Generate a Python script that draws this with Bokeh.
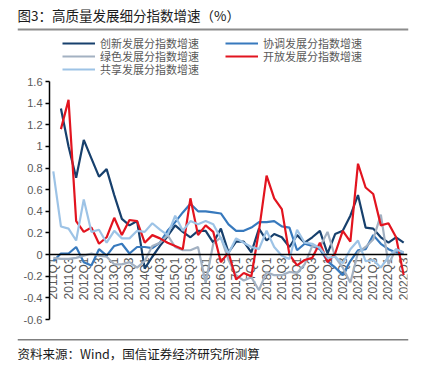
import math
from bokeh.plotting import figure
from bokeh.layouts import column
from bokeh.models import (Span, Label, Legend, LegendItem,
                          FixedTicker, FactorRange, Range1d)
from bokeh.core.properties import value
from bokeh.embed import file_html
from bokeh.resources import INLINE

nan = float("nan")

quarters = [f"{y}Q{q}" for y in range(2011, 2023) for q in range(1, 5)][:47]
x_tick_labels = quarters[::2]

y_ticks = [-0.6, -0.4, -0.2, 0.0, 0.2, 0.4, 0.6, 0.8, 1.0, 1.2, 1.4, 1.6]
y_tick_labels = ["-0.6", "-0.4", "-0.2", "0", "0.2", "0.4", "0.6", "0.8", "1", "1.2", "1.4", "1.6"]

innovation = [nan, 1.35, 1.00, 0.71, 1.06, 0.89, 0.72, 0.79, 0.55, 0.33, 0.27, 0.31,
              -0.13, -0.02, 0.08, 0.17, 0.27, 0.21, 0.16, 0.22, 0.22, 0.11, 0.24, 0.02,
              0.12, 0.12, 0.02, 0.24, 0.13, 0.19, 0.16, 0.07, 0.18, 0.11, 0.16, 0.22,
              0.01, 0.19, 0.22, 0.36, 0.55, 0.25, 0.24, 0.16, 0.11, 0.16, 0.11]
coordination = [-0.06, 0.01, 0.01, 0.07, -0.07, -0.10, 0.05, -0.01, 0.08, 0.10, 0.01, 0.07,
                0.07, 0.06, 0.11, 0.22, 0.30, 0.39, 0.47, 0.40, 0.40, 0.39, 0.38, 0.28,
                0.22, 0.22, 0.25, 0.30, 0.30, 0.31, 0.26, 0.25, 0.04, 0.10, 0.08, 0.05,
                -0.06, -0.12, -0.19, -0.06, 0.04, 0.05, 0.18, 0.10, 0.05, 0.02, 0.01]
green = [-0.03, -0.04, -0.04, -0.03, -0.01, 0.01, -0.01, -0.02, -0.09, -0.09, -0.07, -0.12,
         -0.06, 0.08, 0.11, 0.18, 0.07, 0.04, 0.04, 0.07, -0.26, 0.10, 0.16, -0.05,
         -0.19, -0.24, -0.21, -0.33, -0.16, -0.19, -0.19, -0.16, -0.17, -0.09, 0.08, 0.07,
         0.21, -0.02, -0.12, -0.26, 0.02, 0.07, 0.14, 0.37, -0.09, 0.05, 0.02]
opening = [nan, 1.16, 1.43, 0.31, 0.21, 0.25, 0.10, 0.16, 0.34, 0.18, 0.32, 0.31,
           0.11, 0.18, 0.15, 0.11, 0.08, 0.05, 0.52, 0.18, 0.27, 0.21, -0.07, 0.02,
           -0.23, -0.17, -0.20, 0.22, 0.73, 0.52, 0.42, 0.00, -0.10, -0.05, -0.03, 0.11,
           -0.07, 0.01, 0.22, 0.12, 0.84, 0.62, 0.56, 0.27, 0.29, 0.16, -0.19]
sharing = [0.77, 0.26, 0.24, 0.13, 0.51, 0.21, 0.23, 0.11, 0.22, 0.15, 0.15, 0.22,
           0.21, 0.29, 0.23, 0.18, 0.36, 0.22, 0.31, 0.28, 0.31, 0.28, 0.15, 0.01,
           0.15, 0.11, 0.07, 0.05, 0.22, 0.07, -0.01, -0.04, 0.23, 0.11, 0.10, 0.06,
           -0.03, -0.02, -0.08, 0.05, 0.13, -0.06, -0.05, -0.12, -0.02, 0.05, 0.02]

names = ["创新发展分指数增速", "协调发展分指数增速", "绿色发展分指数增速",
         "开放发展分指数增速", "共享发展分指数增速"]
colors = ["#17406D", "#3779BD", "#A3B1C2", "#E2141F", "#9DC3E6"]
series = [innovation, coordination, green, opening, sharing]

title_text = "图3：高质量发展细分指数增速（%）"
source_text = "资料来源：Wind，国信证券经济研究所测算"

CJK = "Noto Sans CJK SC"
W = 423
HEAD_H, MAIN_H, FOOT_H = 76, 254, 35
LW = 2.2
X0, X1 = 17, 408   # left / right edge of the header and footer bands


def band_figure(height):
    f = figure(width=W, height=height, x_range=Range1d(X0, X1), y_range=Range1d(0, height),
               output_backend="svg", toolbar_location=None,
               min_border_left=X0, min_border_right=W - X1, min_border_top=0, min_border_bottom=0)
    f.frame_align = False
    f.xaxis.visible = False
    f.yaxis.visible = False
    f.grid.visible = False
    f.outline_line_color = None
    f.background_fill_color = "white"
    f.border_fill_color = "white"
    return f


def add_rule(f, band_h, centre_y, color, width):
    # separator line across the band
    f.add_layout(Span(location=band_h - centre_y, dimension="width",
                      line_color=color, line_width=width))


# ---------- header: title, rule, legend ----------
head = band_figure(HEAD_H)
head.add_layout(Label(x=X0, y=HEAD_H - 14.5, text=title_text, text_font=CJK, text_font_size="13.5px",
                      text_color="#1a1a1a", text_baseline="middle"))
add_rule(head, HEAD_H, 29, "#8c8c8c", 2)
dummies = [head.line(x=[nan], y=[nan], line_color=c, line_width=LW) for c in colors]

# legend slots: (item index, glyph left x, row centre y) in header pixels
legend_slots = [(0, 62, 43), (1, 225, 43), (2, 62, 56), (3, 225, 56), (4, 62, 69)]
ITEM_H = 16
for i, lx, cy in legend_slots:
    lg = Legend(items=[LegendItem(label=names[i], renderers=[dummies[i]])],
                location=(lx - X0, HEAD_H - cy - ITEM_H / 2), orientation="vertical",
                glyph_width=33, glyph_height=ITEM_H, label_height=ITEM_H, label_standoff=5,
                spacing=0, padding=0, margin=0,
                label_text_font=CJK, label_text_font_size="11px", label_text_color="#595959",
                border_line_color=None, background_fill_alpha=0)
    head.add_layout(lg, "center")

# ---------- main chart ----------
p = figure(width=W, height=MAIN_H,
           x_range=FactorRange(*quarters), y_range=Range1d(-0.6, 1.6),
           output_backend="svg", toolbar_location=None,
           min_border_left=49, min_border_right=16, min_border_top=5, min_border_bottom=11)
p.frame_align = False
p.xaxis.visible = False
p.xgrid.visible = False
p.ygrid.visible = False
p.outline_line_color = None
p.background_fill_color = "white"
p.border_fill_color = "white"

ax = p.yaxis[0]
ax.ticker = FixedTicker(ticks=y_ticks)
ax.major_label_overrides = dict(zip(y_ticks, y_tick_labels))
ax.axis_line_color = "#000000"
ax.axis_line_width = 1.5
ax.major_tick_line_color = "#000000"
ax.major_tick_line_width = 1.5
ax.major_tick_out = 4
ax.major_tick_in = 0
ax.minor_tick_line_color = None
ax.major_label_standoff = 3
ax.major_label_text_font = "Liberation Sans"
ax.major_label_text_font_size = "11px"
ax.major_label_text_color = "#595959"

p.text(x=x_tick_labels, y=[0] * len(x_tick_labels), text=x_tick_labels,
       angle=math.pi / 2, text_align="right", text_baseline="middle", y_offset=3,
       text_font=value("Liberation Sans"), text_font_size="12px", text_color="#595959")

p.add_layout(Span(location=0, dimension="width", line_color="#000000", line_width=1.5))

for vals, col in zip(series, colors):
    p.line(x=quarters, y=vals, line_color=col, line_width=LW)

# ---------- footer ----------
foot = band_figure(FOOT_H)
add_rule(foot, FOOT_H, 9.25, "#7f7f7f", 1.5)
foot.add_layout(Label(x=X0, y=FOOT_H - 22.5, text=source_text, text_font=CJK, text_font_size="12.5px",
                      text_color="#1a1a1a", text_baseline="middle"))

layout = column(head, p, foot, spacing=0)
open("out.html", "w").write(file_html(layout, INLINE))
